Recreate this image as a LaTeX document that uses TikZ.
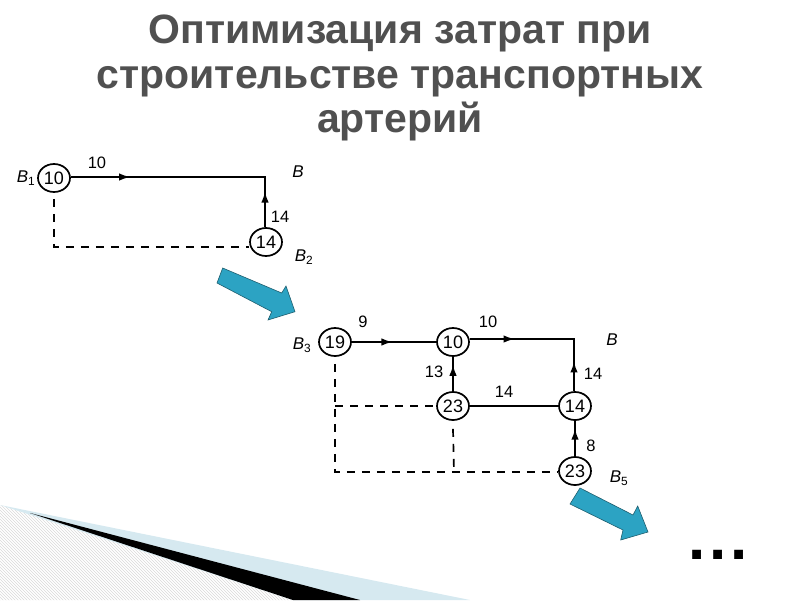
\documentclass[tikz,border=0pt]{standalone}
\usepackage{fontspec}
\setmainfont{Liberation Sans}
\usetikzlibrary{shapes.geometric,arrows.meta,calc,patterns}
\definecolor{titlegray}{HTML}{505050}
\definecolor{arrblue}{HTML}{2CA3C3}
\definecolor{arredge}{HTML}{1E5E6E}
\definecolor{bandblue}{HTML}{D6E9F0}
\tikzset{
  vtx/.style={draw,ellipse,line width=1.7pt,minimum width=32pt,minimum height=28pt,inner sep=0pt,font=\fontsize{18}{18}\selectfont},
  edge/.style={line width=1.8pt},
  tipseg/.style={line width=1.8pt,-{Latex[length=11pt,width=7.5pt]},shorten >=-1pt},
  dashline/.style={line width=1.7pt,dash pattern=on 8pt off 7pt},
  lbl/.style={font=\fontsize{16.5}{16.5}\selectfont,inner sep=0pt},
  blbl/.style={font=\fontsize{17}{17}\selectfont\itshape,inner sep=0pt},
  bigarrow/.style={fill=arrblue,draw=arredge,line width=0.6pt,line join=miter}
}
\begin{document}
\begin{tikzpicture}[x=1pt,y=-1pt]
\useasboundingbox (0,0) rectangle (800,600);
% bottom-left decoration
\fill[pattern=north west lines,pattern color=gray!30] (0,505) -- (293,600) -- (0,600) -- cycle;
\fill[bandblue] (0,505) -- (470,600) -- (293,600) -- cycle;
\fill[black] (30,513) -- (360,600) -- (293,600) -- cycle;
% title
\node[anchor=north,inner sep=0pt,align=center,text=titlegray,font=\fontsize{41}{44.5}\selectfont\bfseries] (title) at (400,15)
  {Оптимизация затрат при\\строительстве транспортных\\артерий};
% diagram 1
\node[vtx] (a1) at (54,178) {10};
\node[vtx] (a2) at (266,242) {14};
\coordinate (c1) at (265,177);
\coordinate (c1b) at (a2.north -| c1);
\draw[edge,line join=miter] (a1.east |- c1) -- (c1) -- (c1b);
\draw[tipseg] (a1.east |- c1) -- ($(a1.east |- c1)!0.3!(c1)$);
\draw[tipseg] (c1b) -- ($(c1b)!0.69!(c1)$);
\coordinate (d1) at (54,247);
\draw[dashline] ([yshift=-6pt]a1.south) -- (d1) -- (a2.west |- d1);
\node[lbl] (l10a) at (97,163) {10};
\node[lbl] (l14a) at (280,217) {14};
\node[blbl] (bB1) at (298,172) {B};
\node[blbl] (bB1s) at (26,178) {B\textsubscript{\upshape 1}};
\node[blbl] (bB2) at (304,257) {B\textsubscript{\upshape 2}};
% blue arrow 1
\fill[bigarrow] (222.7,268) -- (281.7,293) -- (286,286) -- (295,311.7) -- (268,320) -- (271.7,311.7) -- (217,283) -- cycle;
% diagram 2
\node[vtx] (b19) at (335,342) {19};
\node[vtx] (b10) at (453,342) {10};
\node[vtx] (b23) at (453,406) {23};
\node[vtx] (b14) at (575,406) {14};
\node[vtx] (b23b) at (575,471) {23};
\coordinate (c2) at (574,339);
\draw[edge] (b19) -- (b10);
\draw[tipseg] (b19.east) -- ($(b19.east)!0.47!(b10.west)$);
\draw[edge,line join=miter] (b10.east |- c2) -- (c2) -- (c2 |- b14.north);
\draw[tipseg] (b10.east |- c2) -- ($(b10.east |- c2)!0.42!(c2)$);
\draw[tipseg] (c2 |- b14.north) -- ($(c2 |- b14.north)!0.55!(c2)$);
\draw[edge] (b23) -- (b10);
\draw[tipseg] (b23.north) -- ($(b23.north)!0.74!(b10.south)$);
\draw[edge] (b23) -- (b14);
\draw[edge] (b23b) -- (b14);
\draw[tipseg] (b23b.north) -- ($(b23b.north)!0.75!(b14.south)$);
\coordinate (d2) at (335,472);
\coordinate (d3) at (335,406);
\coordinate (d4) at (454,472);
\draw[dashline] ([yshift=-7pt]b19.south) -- (d2) -- (b23b.west |- d2);
\draw[dashline] (d3) -- (b23.west);
\draw[dashline] ([yshift=-8pt]b23.south) -- (d4);
\node[lbl] (l9) at (363,322) {9};
\node[lbl] (l10b) at (488,322) {10};
\node[lbl] (l13) at (434,372) {13};
\node[lbl] (l14b) at (504,392) {14};
\node[lbl] (l14c) at (593,374) {14};
\node[lbl] (l8) at (591,446) {8};
\node[blbl] (bB) at (612,340) {B};
\node[blbl] (bB3) at (302,345) {B\textsubscript{\upshape 3}};
\node[blbl] (bB5) at (619,478) {B\textsubscript{\upshape 5}};
% blue arrow 2
\fill[bigarrow] (580,488) -- (633,515) -- (637.7,506) -- (648,532) -- (620.7,540) -- (623,530) -- (570,504) -- cycle;
% ellipsis
\node[anchor=base,inner sep=0pt,font=\fontsize{62}{62}\selectfont\bfseries] (dots) at (718,559) {.\kern4pt.\kern4pt.};
\end{tikzpicture}
\end{document}
